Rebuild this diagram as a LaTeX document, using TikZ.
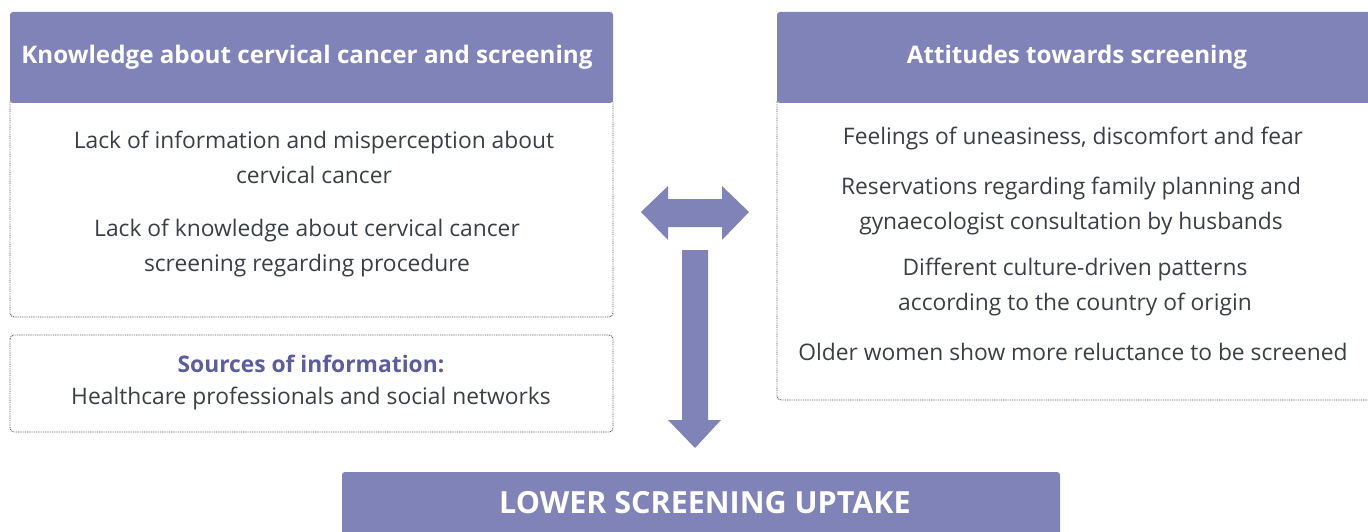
\documentclass[tikz,border=0pt]{standalone}
\usepackage{fontspec}
\setmainfont{Open Sans}
\definecolor{hdr}{HTML}{7F83B7}
\definecolor{txt}{HTML}{3A3F44}
\definecolor{src}{HTML}{5A5E9E}
\definecolor{dotc}{HTML}{555555}
\begin{document}
\begin{tikzpicture}[x=1pt,y=-1pt,
  hdrbox/.style={fill=hdr,draw=none,rounded corners=3pt},
  bodybox/.style={draw=dotc,line width=0.9pt,dash pattern=on 0.9pt off 0.9pt,rounded corners=4pt},
  hdrtext/.style={text=white,font=\fontsize{24.2}{28}\selectfont\bfseries,inner sep=0pt},
  bodytext/.style={text=txt,font=\fontsize{22.8}{35}\selectfont,align=center,inner sep=0pt},
  blockarrow/.style={fill=hdr,draw=none}]
\useasboundingbox (0,0) rectangle (1368,532);
\clip (0,0) rectangle (1368,532);
% left column
\draw[bodybox] (10,98) rectangle (613,317);
\fill[hdrbox] (10,12) rectangle (613,103);
\node[hdrtext] (lh) at (307,57) {Knowledge about cervical cancer and screening};
\node[bodytext] (l1) at (314,157) {Lack of information and misperception about\\cervical cancer};
\node[bodytext] (l2) at (307,248) {Lack of knowledge about cervical cancer\\screening regarding procedure};
\draw[bodybox] (10,335) rectangle (613,432);
\node[bodytext,text=src,font=\fontsize{22.8}{28}\selectfont\bfseries] (st) at (311,364) {Sources of information:};
\node[bodytext] (sb) at (311,399) {Healthcare professionals and social networks};
% right column
\draw[bodybox] (777,98) rectangle (1380,400);
\fill[hdrbox] (777,12) rectangle (1380,103);
\node[hdrtext] (rh) at (1077,57) {Attitudes towards screening};
\node[bodytext] (r1) at (1073,139) {Feelings of uneasiness, discomfort and fear};
\node[bodytext] (r2) at (1071,206) {Reservations regarding family planning and\\gynaecologist consultation by husbands};
\node[bodytext] (r3) at (1075,287) {Different culture-driven patterns\\according to the country of origin};
\node[bodytext] (r4) at (1073,352) {Older women show more reluctance to be screened};
% bottom box
\fill[hdrbox] (342,472) rectangle (1060,545);
\node[hdrtext,font=\fontsize{30.5}{34}\selectfont\bfseries] (bt) at (705,503) {LOWER SCREENING UPTAKE};
% double arrow
\fill[blockarrow] (641,212) -- (668,186) -- (668,199) -- (722,199) -- (722,186) -- (749,212)
  -- (722,240) -- (722,227) -- (668,227) -- (668,240) -- cycle;
% down arrow
\fill[blockarrow] (682,250) -- (708,250) -- (708,420) -- (721,420) -- (695,448) -- (668,420) -- (682,420) -- cycle;
\end{tikzpicture}
\end{document}
